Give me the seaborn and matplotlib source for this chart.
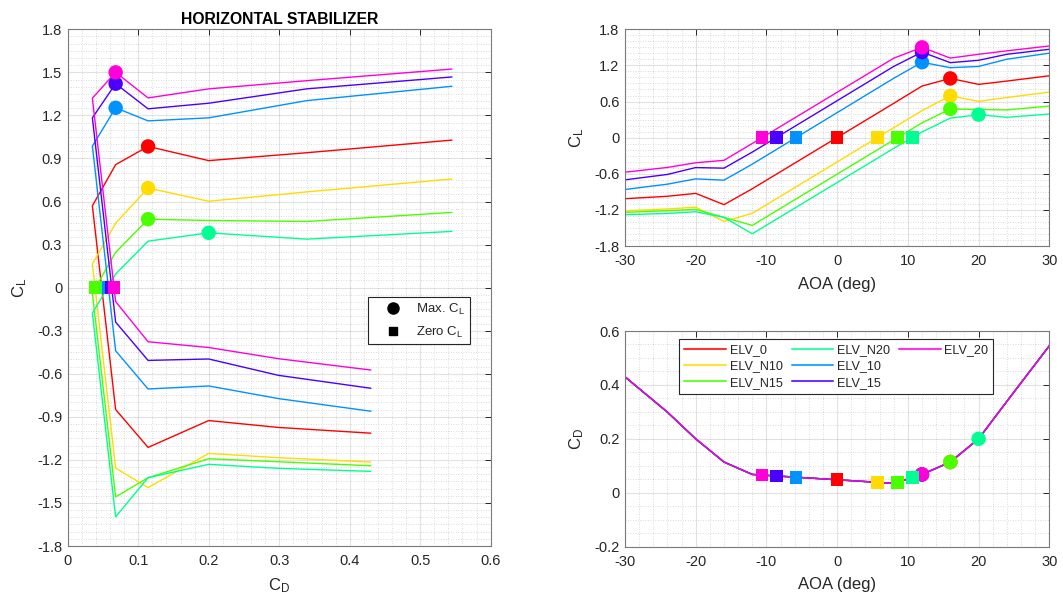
import numpy as np
import pandas as pd
import matplotlib
matplotlib.use("Agg")
import matplotlib.pyplot as plt
from matplotlib.ticker import MultipleLocator, FuncFormatter
from matplotlib.lines import Line2D
import seaborn as sns

# ---- aerodynamic tables -------------------------------------------------
AOA = [-30, -24, -20, -16, -12, 8, 12, 16, 20, 24, 30]
CD = [0.430, 0.299, 0.200, 0.114, 0.068, 0.035, 0.068, 0.114, 0.200, 0.339, 0.545]

SERIES = ["ELV_0", "ELV_N10", "ELV_N15", "ELV_N20", "ELV_10", "ELV_15", "ELV_20"]

CL_ELV_0 = [-1.014, -0.974, -0.926, -1.113, -0.849, 0.570, 0.857, 0.984, 0.885, 0.940, 1.028]
CL_ELV_N10 = [-1.215, -1.185, -1.155, -1.393, -1.257, 0.165, 0.449, 0.694, 0.602, 0.667, 0.757]
CL_ELV_N15 = [-1.241, -1.213, -1.192, -1.324, -1.458, -0.038, 0.246, 0.477, 0.468, 0.461, 0.524]
CL_ELV_N20 = [-1.280, -1.259, -1.231, -1.324, -1.597, -0.178, 0.095, 0.324, 0.382, 0.338, 0.392]
CL_ELV_10 = [-0.861, -0.773, -0.685, -0.706, -0.440, 0.986, 1.253, 1.162, 1.183, 1.303, 1.403]
CL_ELV_15 = [-0.701, -0.611, -0.497, -0.507, -0.240, 1.183, 1.421, 1.246, 1.285, 1.385, 1.468]
CL_ELV_20 = [-0.574, -0.495, -0.417, -0.377, -0.097, 1.320, 1.500, 1.322, 1.385, 1.442, 1.523]

CL_TABLE = [CL_ELV_0, CL_ELV_N10, CL_ELV_N15, CL_ELV_N20, CL_ELV_10, CL_ELV_15, CL_ELV_20]

# hsv(7) colour map
COLORS = ["#FF0000", "#FFDB00", "#49FF00", "#00FF92", "#0092FF", "#4900FF", "#FF00DB"]

# ---- derived points: stall peak and zero-lift crossing --------------------
aoa = np.array(AOA, dtype=float)
cd = np.array(CD, dtype=float)
rows, max_rows, zero_rows = [], [], []
for name, cl in zip(SERIES, CL_TABLE):
    cl = np.array(cl, dtype=float)
    for a, d, c in zip(aoa, cd, cl):
        rows.append(dict(series=name, AOA=a, CD=d, CL=c))
    window = np.abs(aoa) <= 20
    idx = np.flatnonzero(window)[np.argmax(cl[window])]
    max_rows.append(dict(series=name, AOA=aoa[idx], CD=cd[idx], CL=cl[idx]))
    k = np.flatnonzero((cl[:-1] < 0) & (cl[1:] >= 0))[0]
    a0 = aoa[k] + (0 - cl[k]) / (cl[k + 1] - cl[k]) * (aoa[k + 1] - aoa[k])
    zero_rows.append(dict(series=name, AOA=a0, CD=np.interp(a0, aoa, cd), CL=0.0))

df = pd.DataFrame(rows)
df_max = pd.DataFrame(max_rows)
df_zero = pd.DataFrame(zero_rows)
palette = dict(zip(SERIES, COLORS))

# ---- style ----------------------------------------------------------------
sns.set_theme(style="white")
plt.rcParams["font.family"] = ["Liberation Sans", "DejaVu Sans"]
plt.rcParams["mathtext.default"] = "regular"
plt.rcParams["axes.unicode_minus"] = False
DARK = "#262626"

W, H = 1063, 596
fig = plt.figure(figsize=(W / 100, H / 100), dpi=100)
fig.patch.set_facecolor("white")


def px_axes(left, top, right, bottom):
    return fig.add_axes([left / W, 1 - bottom / H, (right - left) / W, (bottom - top) / H])


ax_polar = px_axes(67.7, 29.3, 490.7, 546.0)
ax_cl = px_axes(625.0, 29.3, 1049.3, 246.0)
ax_cd = px_axes(625.0, 331.0, 1049.3, 546.7)

fmt = FuncFormatter(lambda v, p: "%g" % round(v, 6))


def style_axes(ax, xlim, xmaj, xmin, ylim, ymaj, ymin):
    ax.set_xlim(*xlim)
    ax.set_ylim(*ylim)
    ax.xaxis.set_major_locator(MultipleLocator(xmaj))
    ax.xaxis.set_minor_locator(MultipleLocator(xmin))
    ax.yaxis.set_major_locator(MultipleLocator(ymaj))
    ax.yaxis.set_minor_locator(MultipleLocator(ymin))
    ax.xaxis.set_major_formatter(fmt)
    ax.yaxis.set_major_formatter(fmt)
    ax.grid(which="major", color=DARK, alpha=0.13, lw=0.8, ls="-")
    ax.grid(which="minor", color=DARK, alpha=0.22, lw=0.6, ls=(0, (1, 2)))
    ax.set_axisbelow(True)
    ax.tick_params(which="major", direction="in", length=4, width=0.7, color=DARK,
                   top=True, right=True, labelsize=10.5, labelcolor=DARK)
    ax.tick_params(axis="x", which="major", pad=6)
    ax.tick_params(axis="y", which="major", pad=4)
    ax.tick_params(which="minor", length=0)
    for s in ax.spines.values():
        s.set_color("#7a7a7a")
        s.set_linewidth(0.8)
        s.set_visible(True)
    ax.set_facecolor("white")


LW = 1.0
MS_O = 108
MS_S = 84

# ---- lift polar -----------------------------------------------------------
sns.lineplot(data=df, x="CD", y="CL", hue="series", hue_order=SERIES, palette=palette,
             sort=False, estimator=None, lw=LW, legend=False, ax=ax_polar)
sns.scatterplot(data=df_max, x="CD", y="CL", hue="series", hue_order=SERIES, palette=palette,
                marker="o", s=MS_O, linewidth=0, legend=False, ax=ax_polar, zorder=3)
sns.scatterplot(data=df_zero, x="CD", y="CL", hue="series", hue_order=SERIES, palette=palette,
                marker="s", s=MS_S, linewidth=0, legend=False, ax=ax_polar, zorder=3)
style_axes(ax_polar, (0, 0.6), 0.1, 0.02, (-1.8, 1.8), 0.3, 0.05)
ax_polar.set_xlabel("C$_D$", fontsize=12, color=DARK, labelpad=6)
ax_polar.set_ylabel("C$_L$", fontsize=12, color=DARK, labelpad=6)
ax_polar.set_title("HORIZONTAL STABILIZER", fontsize=11.3, fontweight="bold", color="black", pad=3.5)

marker_handles = [
    Line2D([], [], marker="o", color="black", ls="none", markersize=8),
    Line2D([], [], marker="s", color="black", ls="none", markersize=6),
]
leg1 = ax_polar.legend(marker_handles, ["Max. C$_L$", "Zero C$_L$"], loc="upper right",
                       bbox_to_anchor=(0.951, 0.481), borderaxespad=0, fontsize=9.5,
                       frameon=True, fancybox=False, edgecolor=DARK, framealpha=1,
                       handlelength=3.0, handletextpad=0.3, borderpad=0.35, labelspacing=0.55)
leg1.get_frame().set_linewidth(0.8)

# ---- lift curve -----------------------------------------------------------
sns.lineplot(data=df, x="AOA", y="CL", hue="series", hue_order=SERIES, palette=palette,
             sort=False, estimator=None, lw=LW, legend=False, ax=ax_cl)
sns.scatterplot(data=df_max, x="AOA", y="CL", hue="series", hue_order=SERIES, palette=palette,
                marker="o", s=MS_O, linewidth=0, legend=False, ax=ax_cl, zorder=3)
sns.scatterplot(data=df_zero, x="AOA", y="CL", hue="series", hue_order=SERIES, palette=palette,
                marker="s", s=MS_S, linewidth=0, legend=False, ax=ax_cl, zorder=3)
style_axes(ax_cl, (-30, 30), 10, 2, (-1.8, 1.8), 0.6, 0.1)
ax_cl.set_xlabel("AOA (deg)", fontsize=12, color=DARK, labelpad=6)
ax_cl.set_ylabel("C$_L$", fontsize=12, color=DARK, labelpad=6)

# ---- drag curve -----------------------------------------------------------
sns.lineplot(data=df, x="AOA", y="CD", hue="series", hue_order=SERIES, palette=palette,
             sort=False, estimator=None, lw=LW, legend=False, ax=ax_cd)
sns.scatterplot(data=df_max, x="AOA", y="CD", hue="series", hue_order=SERIES, palette=palette,
                marker="o", s=MS_O, linewidth=0, legend=False, ax=ax_cd, zorder=3)
sns.scatterplot(data=df_zero, x="AOA", y="CD", hue="series", hue_order=SERIES, palette=palette,
                marker="s", s=MS_S, linewidth=0, legend=False, ax=ax_cd, zorder=3)
style_axes(ax_cd, (-30, 30), 10, 2, (-0.2, 0.6), 0.2, 0.05)
ax_cd.set_xlabel("AOA (deg)", fontsize=12, color=DARK, labelpad=6)
ax_cd.set_ylabel("C$_D$", fontsize=12, color=DARK, labelpad=6)

series_handles = [Line2D([], [], color=c, lw=1.5, alpha=0.8) for c in COLORS]
blank = Line2D([], [], color="none")
leg2 = ax_cd.legend(series_handles + [blank, blank], SERIES + ["", ""], ncol=3,
                    loc="upper left", bbox_to_anchor=(0.128, 0.9615), borderaxespad=0,
                    fontsize=9.1, frameon=True, fancybox=False, edgecolor=DARK,
                    framealpha=1, handlelength=3.3, handletextpad=0.3,
                    columnspacing=0.7, borderpad=0.4, labelspacing=0.33)
leg2.get_frame().set_linewidth(0.8)

fig.savefig("out.png", dpi=100, facecolor="white")
